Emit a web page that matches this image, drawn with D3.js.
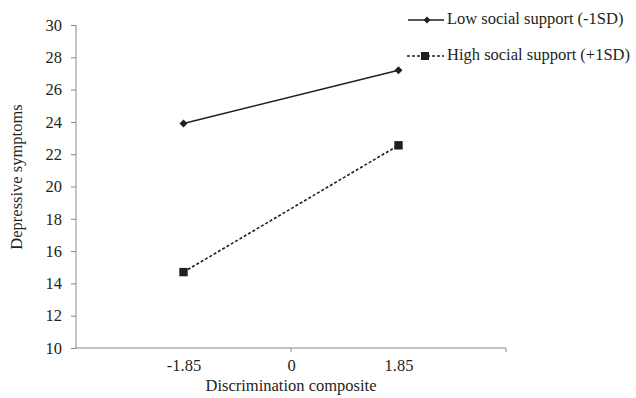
<!DOCTYPE html>
<html><head><meta charset="utf-8">
<script src="https://cdn.jsdelivr.net/npm/d3@7"></script>
<style>body{margin:0;background:#fff}svg{display:block}text{font-family:"Liberation Serif","Times New Roman",serif;fill:#231f20}</style>
</head><body><svg id="c" width="636" height="398"></svg>
<script>
const categories = ["-1.85", "0", "1.85"];
const lowSupport = [{x:"-1.85", y:23.9}, {x:"1.85", y:27.2}];
const highSupport = [{x:"-1.85", y:14.7}, {x:"1.85", y:22.55}];
const yTicks = [10,12,14,16,18,20,22,24,26,28,30];
const seriesNames = ["Low social support (-1SD)", "High social support (+1SD)"];

const svg = d3.select("#c");
const L = 76, R = 506, T = 25, B = 348;
const FS = "16.5px";
const serif = '"Liberation Serif","Times New Roman",serif';
const x = d3.scalePoint().domain(categories).range([L, R]).padding(1);
const y = d3.scaleLinear().domain([10, 30]).range([B, T]);
const axisCol = "#868686", ink = "#231f20";

// y axis
const ya = svg.append("g").attr("transform", `translate(${L},0)`)
  .call(d3.axisLeft(y).tickValues(yTicks).tickSize(5).tickPadding(9).tickFormat(d3.format("d")));
ya.attr("font-family", null);
ya.select(".domain").attr("stroke", axisCol).attr("d", `M0,${T}V${B}`);
ya.selectAll(".tick line").attr("stroke", axisCol);
ya.selectAll(".tick text").style("font-size", FS).style("font-family", serif).attr("fill", ink);

// x axis
const xa = svg.append("g").attr("transform", `translate(0,${B})`)
  .call(d3.axisBottom(x).tickSize(0).tickPadding(11));
xa.attr("font-family", null);
xa.select(".domain").attr("stroke", axisCol).attr("d", `M${L},0H${R}V4`);
xa.selectAll(".tick text").style("font-size", FS).style("font-family", serif).attr("fill", ink);
xa.append("line").attr("x1", x("0")).attr("x2", x("0")).attr("y1", 0).attr("y2", 4).attr("stroke", axisCol);

// titles
svg.append("text").attr("x", x("0")).attr("y", 391).attr("text-anchor", "middle")
  .style("font-size", FS).style("font-family", serif).text("Discrimination composite");
svg.append("text").attr("transform", `translate(22,177) rotate(-90)`).attr("text-anchor", "middle")
  .style("font-size", FS).style("font-family", serif).text("Depressive symptoms");

const line = d3.line().x(d => x(d.x)).y(d => y(d.y));
svg.append("path").datum(lowSupport).attr("d", line).attr("fill", "none").attr("stroke", ink).attr("stroke-width", 1.6);
svg.append("path").datum(highSupport).attr("d", line).attr("fill", "none").attr("stroke", ink).attr("stroke-width", 1.6).attr("stroke-dasharray", "3,2");

const diamond = d3.symbol().type(d3.symbolDiamond2).size(40);
svg.selectAll(".dm").data(lowSupport).join("path")
  .attr("transform", d => `translate(${x(d.x)},${y(d.y)})`).attr("d", diamond).attr("fill", ink);
svg.selectAll(".sq").data(highSupport).join("rect")
  .attr("x", d => x(d.x) - 4.2).attr("y", d => y(d.y) - 4.2).attr("width", 8.4).attr("height", 8.4).attr("fill", ink);

// legend
const lg = svg.append("g");
const rows = [20, 56];
lg.append("line").attr("x1", 408).attr("x2", 444).attr("y1", rows[0]).attr("y2", rows[0]).attr("stroke", ink).attr("stroke-width", 1.6);
lg.append("path").attr("transform", `translate(427,${rows[0]})`).attr("d", d3.symbol().type(d3.symbolDiamond2).size(30)).attr("fill", ink);
lg.append("line").attr("x1", 407).attr("x2", 444).attr("y1", rows[1]).attr("y2", rows[1]).attr("stroke", ink).attr("stroke-width", 1.6).attr("stroke-dasharray", "3,2");
lg.append("rect").attr("x", 421).attr("y", rows[1] - 4).attr("width", 8).attr("height", 8).attr("fill", ink);
seriesNames.forEach((n, i) => {
  lg.append("text").attr("x", 447).attr("y", rows[i] + 4).style("font-size", "16.5px").style("font-family", serif).text(n);
});
</script></body></html>
